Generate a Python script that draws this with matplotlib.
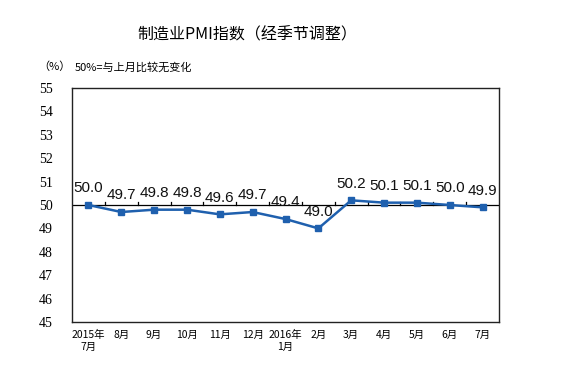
import matplotlib
matplotlib.use("Agg")
import matplotlib.pyplot as plt
import numpy as np

plt.rcParams['font.family'] = ['Noto Sans CJK SC', 'DejaVu Sans']

categories = ["2015年\n7月", "8月", "9月", "10月", "11月", "12月", "2016年\n1月",
              "2月", "3月", "4月", "5月", "6月", "7月"]
values = [50.0, 49.7, 49.8, 49.8, 49.6, 49.7, 49.4, 49.0, 50.2, 50.1, 50.1, 50.0, 49.9]
yticks = [45, 46, 47, 48, 49, 50, 51, 52, 53, 54, 55]

color = "#1F60AE"

fig = plt.figure(figsize=(5.70, 3.76), dpi=100)
ax = fig.add_axes([72/570, 54/376, 427/570, 234/376])

x = np.arange(len(values))
ax.set_xlim(-0.5, len(values) - 0.5)
ax.set_ylim(45, 55)

# baseline at 50 with small tick marks at category boundaries
ax.axhline(50, color="black", lw=0.9, zorder=1)
for b in np.arange(0.5, len(values) - 0.5, 1.0):
    ax.plot([b, b], [50, 50.13], color="black", lw=0.9, zorder=1)

ax.plot(x, values, color=color, lw=1.8, marker="s", markersize=4.5, zorder=3)

for xi, v in zip(x, values):
    ax.annotate(f"{v:.1f}", (xi, v), xytext=(0, 12), textcoords="offset points",
                ha="center", va="center", fontsize=11,
                family=["Liberation Sans", "DejaVu Sans"], color="#111111")

ax.set_yticks(yticks)
ax.set_yticklabels([str(t) for t in yticks], family=["Liberation Serif"], fontsize=10)
ax.set_xticks(x)
ax.set_xticklabels(categories, fontsize=7.5, linespacing=1.2)
ax.tick_params(axis="both", length=0, pad=6)
ax.tick_params(axis="y", pad=14)

for s in ax.spines.values():
    s.set_linewidth(1.0)
    s.set_color("#222222")

fig.text(247/570, 1 - 35/376, "制造业PMI指数（经季节调整）", ha="center", va="center",
         fontsize=11.5, fontweight="medium")
fig.text(38/570, 1 - 67/376, "（%）", ha="left", va="center", fontsize=8)
fig.text(75/570, 1 - 67/376, "50%=与上月比较无变化", ha="left", va="center", fontsize=8)

fig.savefig("out.png", dpi=100, facecolor="white")
